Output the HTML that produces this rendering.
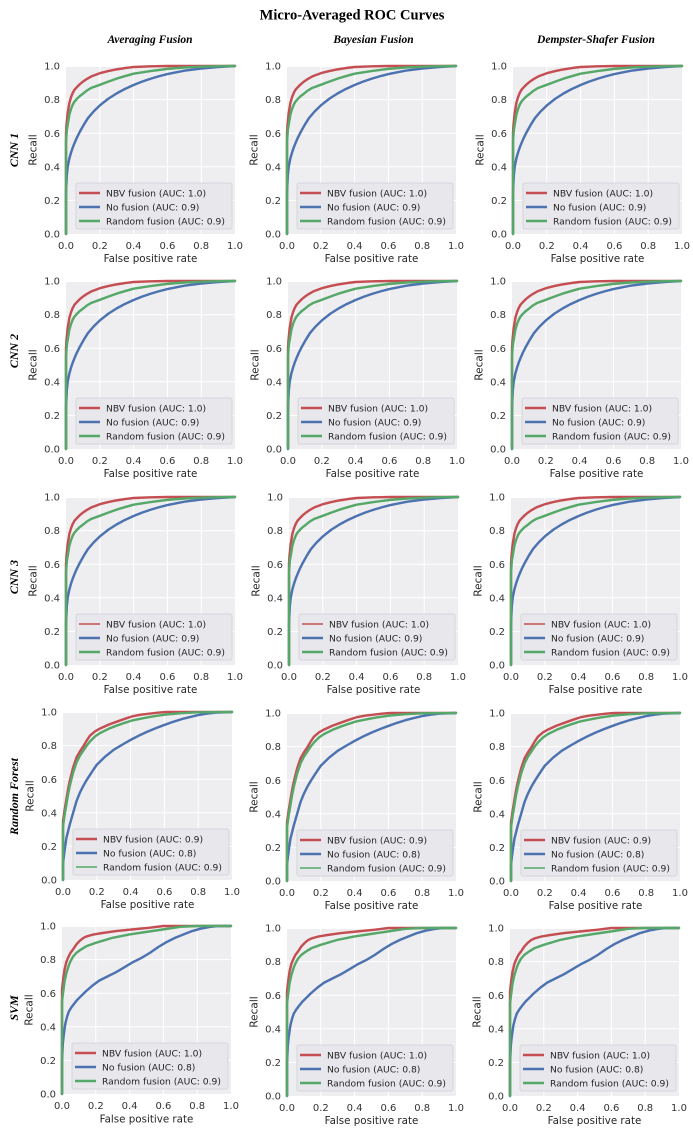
<!DOCTYPE html>
<html><head><meta charset="utf-8"><style>
html,body{margin:0;padding:0;background:#fff;}
svg{display:block}
.bg{fill:#eeeef1}
.gr{stroke:#fff;stroke-width:1;fill:none}
.c{fill:none;stroke-width:1.45;stroke-linejoin:round;stroke-linecap:round}
text{font-family:"DejaVu Sans","Liberation Sans",sans-serif;}
.yt text{text-anchor:end;font-size:10px;fill:#333}
.xt text{text-anchor:middle;font-size:10px;fill:#333}
.xl{text-anchor:middle;font-size:10.3px;fill:#262626}
.yl{text-anchor:middle;font-size:10.5px;fill:#262626}
.lg{fill:#e7e7ec;stroke:#cfcfd5;stroke-width:0.8}
.lt{font-size:9.2px;fill:#262626}
.ser{font-family:"Liberation Serif","DejaVu Serif",serif;font-weight:bold;fill:#000}
.ct{font-style:italic;font-size:11.5px;text-anchor:middle}
.rl{font-style:italic;font-size:12px;text-anchor:middle}
</style></head><body>
<svg width="693" height="1129" viewBox="0 0 693 1129" xmlns="http://www.w3.org/2000/svg">
<defs>
<polyline id="cR" class="c" stroke="#c44e52" points="0,100 0,40 0.3,35 1,28 2,22 3,18.5 4,16 5,14.2 6.5,12.5 8,11 10,9.3 12.5,7.6 15,6.2 20,4.3 25,3 30,2 35,1.2 40,0.6 50,0.2 60,0 100,0"/>
<polyline id="cB" class="c" stroke="#4c72b0" points="0,100 0,75 0.5,65 1,60 2,55 3,51.5 4,48.5 5,46 6.5,42.5 8,39.5 10.5,35 13,31 16.4,27 20,23.5 25,19.5 30,16.3 35,13.6 40,11.3 45,9.3 50,7.6 55,6.1 60,4.8 70,2.8 80,1.5 90,0.6 100,0"/>
<polyline id="cG" class="c" stroke="#55a868" points="0,100 0,45 0.5,38 1,35 2,29 3,25.5 4,23 5,21.2 6.5,19.5 8,18 10,16.5 12.5,14.5 15,13 20,11.2 25,9.3 30,7.5 35,6 40,4.6 50,3 60,1.7 70,0.9 80,0.4 90,0.1 100,0"/>
<polyline id="fR" class="c" stroke="#c44e52" points="0,100 0,65 1,58 2,52 3,46 4,41 6,33 8,27 10,23.5 12,20.5 14,17 16,14 19,11.5 22,9.8 27,7.5 32,5.7 37,3.9 41,2.6 46,1.6 51,1 56,0.4 61,0 100,0"/>
<polyline id="fB" class="c" stroke="#4c72b0" points="0,100 0,90 1,82 2,75 3,71 4,67 6,60 8,53 10,48 12,44 14,40.5 16,37.4 18,34.3 20,31.4 25,26.5 30,22.5 35,19.5 40,16.6 45,14 50,11.7 55,9.6 60,7.7 65,5.9 70,4.3 75,3 80,1.8 85,1 90,0.4 100,0"/>
<polyline id="fG" class="c" stroke="#55a868" points="0,100 0,68 1,61 2,55 3,49 4,44 6,36 8,30 10,26 12,23 14,20 16,17.5 19,14.5 22,12.5 27,10 32,8 37,6.3 41,5 46,4 51,3 56,2.2 61,1.5 70,0.7 80,0.2 100,0"/>
<polyline id="sR" class="c" stroke="#c44e52" points="0,100 0,38 0.6,32.3 1.5,26 2.6,21.3 4,18 5,16 6.5,14 8.5,11 10.5,8.8 12.5,7.2 14.5,6.2 18,5.2 22.4,4.4 32,3 42,2 52,1 60,0 100,0"/>
<polyline id="sB" class="c" stroke="#4c72b0" points="0,100 0,80 0.5,70 1,65 2,58 3,54 4,51 5.5,48.5 7,46.5 9,44 11,42 14,39 18,35.5 22,32.5 27,30 32,27.5 37,24.5 42,21.5 47,19 52,16 57,12.5 62,9.5 67,7 72,5 77,3 82,1.6 87,0.6 92,0 100,0"/>
<polyline id="sG" class="c" stroke="#55a868" points="0,100 0,45 0.6,40 1.5,33 2.6,28 4,23.5 5,21 6.5,18.3 8.5,16 10.5,14.5 12.5,13.2 14.5,12 20,10 30,7 40,5 50,3.5 60,2 70,0.5 80,0 100,0"/>
</defs>

<text class="ser" x="352" y="19.5" font-size="14.5" text-anchor="middle">Micro-Averaged ROC Curves</text>
<text class="ser ct" x="150" y="43">Averaging Fusion</text>
<text class="ser ct" x="373.5" y="43">Bayesian Fusion</text>
<text class="ser ct" x="596" y="43">Dempster-Shafer Fusion</text>

<text class="ser rl" transform="translate(18 150) rotate(-90)">CNN 1</text>
<text class="ser rl" transform="translate(18 351) rotate(-90)">CNN 2</text>
<text class="ser rl" transform="translate(18 577) rotate(-90)">CNN 3</text>
<text class="ser rl" transform="translate(18 796.5) rotate(-90)">Random Forest</text>
<text class="ser rl" transform="translate(18 1008) rotate(-90)">SVM</text>

<!-- ROW 1 -->
<g transform="translate(66,66)">
<rect class="bg" width="169" height="168"/>
<path class="gr" d="M33.8 0V168M67.6 0V168M101.4 0V168M135.2 0V168M0 0.5H169M0 33.6H169M0 67.2H169M0 100.8H169M0 134.4H169"/>
<use href="#cR" transform="scale(1.69 1.68)"/><use href="#cB" transform="scale(1.69 1.68)"/><use href="#cG" transform="scale(1.69 1.68)"/>
<g class="yt"><text x="-6" y="171.6">0.0</text><text x="-6" y="138">0.2</text><text x="-6" y="104.4">0.4</text><text x="-6" y="70.8">0.6</text><text x="-6" y="37.2">0.8</text><text x="-6" y="3.6">1.0</text></g>
<g class="xt"><text x="0" y="183">0.0</text><text x="33.8" y="183">0.2</text><text x="67.6" y="183">0.4</text><text x="101.4" y="183">0.6</text><text x="135.2" y="183">0.8</text><text x="169" y="183">1.0</text></g>
<text class="xl" x="84.5" y="196">False positive rate</text>
<text class="yl" transform="translate(-29.5 84) rotate(-90)">Recall</text>
<rect class="lg" x="10" y="117" width="156" height="46" rx="2"/>
<path d="M13 127H34" stroke="#c44e52" stroke-width="2.5"/><path d="M13 141H34" stroke="#4c72b0" stroke-width="2.5"/><path d="M13 155H34" stroke="#55a868" stroke-width="2.5"/>
<text class="lt" x="40" y="130.5">NBV fusion (AUC: 1.0)</text><text class="lt" x="40" y="144.5">No fusion (AUC: 0.9)</text><text class="lt" x="40" y="158.5">Random fusion (AUC: 0.9)</text>
</g>

<g transform="translate(287,66)">
<rect class="bg" width="169" height="168"/>
<path class="gr" d="M33.8 0V168M67.6 0V168M101.4 0V168M135.2 0V168M0 0.5H169M0 33.6H169M0 67.2H169M0 100.8H169M0 134.4H169"/>
<use href="#cR" transform="scale(1.69 1.68)"/><use href="#cB" transform="scale(1.69 1.68)"/><use href="#cG" transform="scale(1.69 1.68)"/>
<g class="yt"><text x="-6" y="171.6">0.0</text><text x="-6" y="138">0.2</text><text x="-6" y="104.4">0.4</text><text x="-6" y="70.8">0.6</text><text x="-6" y="37.2">0.8</text><text x="-6" y="3.6">1.0</text></g>
<g class="xt"><text x="0" y="183">0.0</text><text x="33.8" y="183">0.2</text><text x="67.6" y="183">0.4</text><text x="101.4" y="183">0.6</text><text x="135.2" y="183">0.8</text><text x="169" y="183">1.0</text></g>
<text class="xl" x="84.5" y="196">False positive rate</text>
<text class="yl" transform="translate(-29.5 84) rotate(-90)">Recall</text>
<rect class="lg" x="10" y="117" width="156" height="46" rx="2"/>
<path d="M13 127H34" stroke="#c44e52" stroke-width="2.5"/><path d="M13 141H34" stroke="#4c72b0" stroke-width="2.5"/><path d="M13 155H34" stroke="#55a868" stroke-width="2.5"/>
<text class="lt" x="40" y="130.5">NBV fusion (AUC: 1.0)</text><text class="lt" x="40" y="144.5">No fusion (AUC: 0.9)</text><text class="lt" x="40" y="158.5">Random fusion (AUC: 0.9)</text>
</g>

<g transform="translate(513,66)">
<rect class="bg" width="169" height="168"/>
<path class="gr" d="M33.8 0V168M67.6 0V168M101.4 0V168M135.2 0V168M0 0.5H169M0 33.6H169M0 67.2H169M0 100.8H169M0 134.4H169"/>
<use href="#cR" transform="scale(1.69 1.68)"/><use href="#cB" transform="scale(1.69 1.68)"/><use href="#cG" transform="scale(1.69 1.68)"/>
<g class="yt"><text x="-6" y="171.6">0.0</text><text x="-6" y="138">0.2</text><text x="-6" y="104.4">0.4</text><text x="-6" y="70.8">0.6</text><text x="-6" y="37.2">0.8</text><text x="-6" y="3.6">1.0</text></g>
<g class="xt"><text x="0" y="183">0.0</text><text x="33.8" y="183">0.2</text><text x="67.6" y="183">0.4</text><text x="101.4" y="183">0.6</text><text x="135.2" y="183">0.8</text><text x="169" y="183">1.0</text></g>
<text class="xl" x="84.5" y="196">False positive rate</text>
<text class="yl" transform="translate(-29.5 84) rotate(-90)">Recall</text>
<rect class="lg" x="10" y="117" width="156" height="46" rx="2"/>
<path d="M13 127H34" stroke="#c44e52" stroke-width="2.5"/><path d="M13 141H34" stroke="#4c72b0" stroke-width="2.5"/><path d="M13 155H34" stroke="#55a868" stroke-width="2.5"/>
<text class="lt" x="40" y="130.5">NBV fusion (AUC: 1.0)</text><text class="lt" x="40" y="144.5">No fusion (AUC: 0.9)</text><text class="lt" x="40" y="158.5">Random fusion (AUC: 0.9)</text>
</g>

<!-- ROW 2 -->
<g transform="translate(66,281)">
<rect class="bg" width="169" height="168"/>
<path class="gr" d="M33.8 0V168M67.6 0V168M101.4 0V168M135.2 0V168M0 0.5H169M0 33.6H169M0 67.2H169M0 100.8H169M0 134.4H169"/>
<use href="#cR" transform="scale(1.69 1.68)"/><use href="#cB" transform="scale(1.69 1.68)"/><use href="#cG" transform="scale(1.69 1.68)"/>
<g class="yt"><text x="-6" y="171.6">0.0</text><text x="-6" y="138">0.2</text><text x="-6" y="104.4">0.4</text><text x="-6" y="70.8">0.6</text><text x="-6" y="37.2">0.8</text><text x="-6" y="3.6">1.0</text></g>
<g class="xt"><text x="0" y="183">0.0</text><text x="33.8" y="183">0.2</text><text x="67.6" y="183">0.4</text><text x="101.4" y="183">0.6</text><text x="135.2" y="183">0.8</text><text x="169" y="183">1.0</text></g>
<text class="xl" x="84.5" y="196">False positive rate</text>
<text class="yl" transform="translate(-29.5 84) rotate(-90)">Recall</text>
<rect class="lg" x="10" y="117" width="156" height="46" rx="2"/>
<path d="M13 127H34" stroke="#c44e52" stroke-width="2.5"/><path d="M13 141H34" stroke="#4c72b0" stroke-width="2.5"/><path d="M13 155H34" stroke="#55a868" stroke-width="2.5"/>
<text class="lt" x="40" y="130.5">NBV fusion (AUC: 1.0)</text><text class="lt" x="40" y="144.5">No fusion (AUC: 0.9)</text><text class="lt" x="40" y="158.5">Random fusion (AUC: 0.9)</text>
</g>

<g transform="translate(288,281)">
<rect class="bg" width="169" height="168"/>
<path class="gr" d="M33.8 0V168M67.6 0V168M101.4 0V168M135.2 0V168M0 0.5H169M0 33.6H169M0 67.2H169M0 100.8H169M0 134.4H169"/>
<use href="#cR" transform="scale(1.69 1.68)"/><use href="#cB" transform="scale(1.69 1.68)"/><use href="#cG" transform="scale(1.69 1.68)"/>
<g class="yt"><text x="-6" y="171.6">0.0</text><text x="-6" y="138">0.2</text><text x="-6" y="104.4">0.4</text><text x="-6" y="70.8">0.6</text><text x="-6" y="37.2">0.8</text><text x="-6" y="3.6">1.0</text></g>
<g class="xt"><text x="0" y="183">0.0</text><text x="33.8" y="183">0.2</text><text x="67.6" y="183">0.4</text><text x="101.4" y="183">0.6</text><text x="135.2" y="183">0.8</text><text x="169" y="183">1.0</text></g>
<text class="xl" x="84.5" y="196">False positive rate</text>
<text class="yl" transform="translate(-29.5 84) rotate(-90)">Recall</text>
<rect class="lg" x="10" y="117" width="156" height="46" rx="2"/>
<path d="M13 127H34" stroke="#c44e52" stroke-width="2.5"/><path d="M13 141H34" stroke="#4c72b0" stroke-width="2.5"/><path d="M13 155H34" stroke="#55a868" stroke-width="2.5"/>
<text class="lt" x="40" y="130.5">NBV fusion (AUC: 1.0)</text><text class="lt" x="40" y="144.5">No fusion (AUC: 0.9)</text><text class="lt" x="40" y="158.5">Random fusion (AUC: 0.9)</text>
</g>

<g transform="translate(512,281)">
<rect class="bg" width="169" height="168"/>
<path class="gr" d="M33.8 0V168M67.6 0V168M101.4 0V168M135.2 0V168M0 0.5H169M0 33.6H169M0 67.2H169M0 100.8H169M0 134.4H169"/>
<use href="#cR" transform="scale(1.69 1.68)"/><use href="#cB" transform="scale(1.69 1.68)"/><use href="#cG" transform="scale(1.69 1.68)"/>
<g class="yt"><text x="-6" y="171.6">0.0</text><text x="-6" y="138">0.2</text><text x="-6" y="104.4">0.4</text><text x="-6" y="70.8">0.6</text><text x="-6" y="37.2">0.8</text><text x="-6" y="3.6">1.0</text></g>
<g class="xt"><text x="0" y="183">0.0</text><text x="33.8" y="183">0.2</text><text x="67.6" y="183">0.4</text><text x="101.4" y="183">0.6</text><text x="135.2" y="183">0.8</text><text x="169" y="183">1.0</text></g>
<text class="xl" x="84.5" y="196">False positive rate</text>
<text class="yl" transform="translate(-29.5 84) rotate(-90)">Recall</text>
<rect class="lg" x="10" y="117" width="156" height="46" rx="2"/>
<path d="M13 127H34" stroke="#c44e52" stroke-width="2.5"/><path d="M13 141H34" stroke="#4c72b0" stroke-width="2.5"/><path d="M13 155H34" stroke="#55a868" stroke-width="2.5"/>
<text class="lt" x="40" y="130.5">NBV fusion (AUC: 1.0)</text><text class="lt" x="40" y="144.5">No fusion (AUC: 0.9)</text><text class="lt" x="40" y="158.5">Random fusion (AUC: 0.9)</text>
</g>

<!-- ROW 3 -->
<g transform="translate(66,497)">
<rect class="bg" width="169" height="168"/>
<path class="gr" d="M33.8 0V168M67.6 0V168M101.4 0V168M135.2 0V168M0 0.5H169M0 33.6H169M0 67.2H169M0 100.8H169M0 134.4H169"/>
<use href="#cR" transform="scale(1.69 1.68)"/><use href="#cB" transform="scale(1.69 1.68)"/><use href="#cG" transform="scale(1.69 1.68)"/>
<g class="yt"><text x="-6" y="171.6">0.0</text><text x="-6" y="138">0.2</text><text x="-6" y="104.4">0.4</text><text x="-6" y="70.8">0.6</text><text x="-6" y="37.2">0.8</text><text x="-6" y="3.6">1.0</text></g>
<g class="xt"><text x="0" y="183">0.0</text><text x="33.8" y="183">0.2</text><text x="67.6" y="183">0.4</text><text x="101.4" y="183">0.6</text><text x="135.2" y="183">0.8</text><text x="169" y="183">1.0</text></g>
<text class="xl" x="84.5" y="196">False positive rate</text>
<text class="yl" transform="translate(-29.5 84) rotate(-90)">Recall</text>
<rect class="lg" x="10" y="117" width="156" height="46" rx="2"/>
<path d="M13 127H34" stroke="#c44e52" stroke-width="1.6"/><path d="M13 141H34" stroke="#4c72b0" stroke-width="2.5"/><path d="M13 155H34" stroke="#55a868" stroke-width="2.5"/>
<text class="lt" x="40" y="130.5">NBV fusion (AUC: 1.0)</text><text class="lt" x="40" y="144.5">No fusion (AUC: 0.9)</text><text class="lt" x="40" y="158.5">Random fusion (AUC: 0.9)</text>
</g>

<g transform="translate(289,497)">
<rect class="bg" width="169" height="168"/>
<path class="gr" d="M33.8 0V168M67.6 0V168M101.4 0V168M135.2 0V168M0 0.5H169M0 33.6H169M0 67.2H169M0 100.8H169M0 134.4H169"/>
<use href="#cR" transform="scale(1.69 1.68)"/><use href="#cB" transform="scale(1.69 1.68)"/><use href="#cG" transform="scale(1.69 1.68)"/>
<g class="yt"><text x="-6" y="171.6">0.0</text><text x="-6" y="138">0.2</text><text x="-6" y="104.4">0.4</text><text x="-6" y="70.8">0.6</text><text x="-6" y="37.2">0.8</text><text x="-6" y="3.6">1.0</text></g>
<g class="xt"><text x="0" y="183">0.0</text><text x="33.8" y="183">0.2</text><text x="67.6" y="183">0.4</text><text x="101.4" y="183">0.6</text><text x="135.2" y="183">0.8</text><text x="169" y="183">1.0</text></g>
<text class="xl" x="84.5" y="196">False positive rate</text>
<text class="yl" transform="translate(-29.5 84) rotate(-90)">Recall</text>
<rect class="lg" x="10" y="117" width="156" height="46" rx="2"/>
<path d="M13 127H34" stroke="#c44e52" stroke-width="1.6"/><path d="M13 141H34" stroke="#4c72b0" stroke-width="2.5"/><path d="M13 155H34" stroke="#55a868" stroke-width="2.5"/>
<text class="lt" x="40" y="130.5">NBV fusion (AUC: 1.0)</text><text class="lt" x="40" y="144.5">No fusion (AUC: 0.9)</text><text class="lt" x="40" y="158.5">Random fusion (AUC: 0.9)</text>
</g>

<g transform="translate(511,497)">
<rect class="bg" width="169" height="168"/>
<path class="gr" d="M33.8 0V168M67.6 0V168M101.4 0V168M135.2 0V168M0 0.5H169M0 33.6H169M0 67.2H169M0 100.8H169M0 134.4H169"/>
<use href="#cR" transform="scale(1.69 1.68)"/><use href="#cB" transform="scale(1.69 1.68)"/><use href="#cG" transform="scale(1.69 1.68)"/>
<g class="yt"><text x="-6" y="171.6">0.0</text><text x="-6" y="138">0.2</text><text x="-6" y="104.4">0.4</text><text x="-6" y="70.8">0.6</text><text x="-6" y="37.2">0.8</text><text x="-6" y="3.6">1.0</text></g>
<g class="xt"><text x="0" y="183">0.0</text><text x="33.8" y="183">0.2</text><text x="67.6" y="183">0.4</text><text x="101.4" y="183">0.6</text><text x="135.2" y="183">0.8</text><text x="169" y="183">1.0</text></g>
<text class="xl" x="84.5" y="196">False positive rate</text>
<text class="yl" transform="translate(-29.5 84) rotate(-90)">Recall</text>
<rect class="lg" x="10" y="117" width="156" height="46" rx="2"/>
<path d="M13 127H34" stroke="#c44e52" stroke-width="1.6"/><path d="M13 141H34" stroke="#4c72b0" stroke-width="2.5"/><path d="M13 155H34" stroke="#55a868" stroke-width="2.5"/>
<text class="lt" x="40" y="130.5">NBV fusion (AUC: 1.0)</text><text class="lt" x="40" y="144.5">No fusion (AUC: 0.9)</text><text class="lt" x="40" y="158.5">Random fusion (AUC: 0.9)</text>
</g>

<!-- ROW 4 -->
<g transform="translate(63,712)">
<rect class="bg" width="169" height="168"/>
<path class="gr" d="M33.8 0V168M67.6 0V168M101.4 0V168M135.2 0V168M0 0.5H169M0 33.6H169M0 67.2H169M0 100.8H169M0 134.4H169"/>
<use href="#fR" transform="scale(1.69 1.68)"/><use href="#fB" transform="scale(1.69 1.68)"/><use href="#fG" transform="scale(1.69 1.68)"/>
<g class="yt"><text x="-6" y="171.6">0.0</text><text x="-6" y="138">0.2</text><text x="-6" y="104.4">0.4</text><text x="-6" y="70.8">0.6</text><text x="-6" y="37.2">0.8</text><text x="-6" y="3.6">1.0</text></g>
<g class="xt"><text x="0" y="183">0.0</text><text x="33.8" y="183">0.2</text><text x="67.6" y="183">0.4</text><text x="101.4" y="183">0.6</text><text x="135.2" y="183">0.8</text><text x="169" y="183">1.0</text></g>
<text class="xl" x="84.5" y="196">False positive rate</text>
<text class="yl" transform="translate(-29.5 84) rotate(-90)">Recall</text>
<rect class="lg" x="10" y="117" width="156" height="46" rx="2"/>
<path d="M13 127H34" stroke="#c44e52" stroke-width="2.5"/><path d="M13 141H34" stroke="#4c72b0" stroke-width="2.5"/><path d="M13 155H34" stroke="#55a868" stroke-width="1.6"/>
<text class="lt" x="40" y="130.5">NBV fusion (AUC: 0.9)</text><text class="lt" x="40" y="144.5">No fusion (AUC: 0.8)</text><text class="lt" x="40" y="158.5">Random fusion (AUC: 0.9)</text>
</g>

<g transform="translate(287,713)">
<rect class="bg" width="169" height="168"/>
<path class="gr" d="M33.8 0V168M67.6 0V168M101.4 0V168M135.2 0V168M0 0.5H169M0 33.6H169M0 67.2H169M0 100.8H169M0 134.4H169"/>
<use href="#fR" transform="scale(1.69 1.68)"/><use href="#fB" transform="scale(1.69 1.68)"/><use href="#fG" transform="scale(1.69 1.68)"/>
<g class="yt"><text x="-6" y="171.6">0.0</text><text x="-6" y="138">0.2</text><text x="-6" y="104.4">0.4</text><text x="-6" y="70.8">0.6</text><text x="-6" y="37.2">0.8</text><text x="-6" y="3.6">1.0</text></g>
<g class="xt"><text x="0" y="183">0.0</text><text x="33.8" y="183">0.2</text><text x="67.6" y="183">0.4</text><text x="101.4" y="183">0.6</text><text x="135.2" y="183">0.8</text><text x="169" y="183">1.0</text></g>
<text class="xl" x="84.5" y="196">False positive rate</text>
<text class="yl" transform="translate(-29.5 84) rotate(-90)">Recall</text>
<rect class="lg" x="10" y="117" width="156" height="46" rx="2"/>
<path d="M13 127H34" stroke="#c44e52" stroke-width="2.5"/><path d="M13 141H34" stroke="#4c72b0" stroke-width="2.5"/><path d="M13 155H34" stroke="#55a868" stroke-width="1.6"/>
<text class="lt" x="40" y="130.5">NBV fusion (AUC: 0.9)</text><text class="lt" x="40" y="144.5">No fusion (AUC: 0.8)</text><text class="lt" x="40" y="158.5">Random fusion (AUC: 0.9)</text>
</g>

<g transform="translate(511,713)">
<rect class="bg" width="169" height="168"/>
<path class="gr" d="M33.8 0V168M67.6 0V168M101.4 0V168M135.2 0V168M0 0.5H169M0 33.6H169M0 67.2H169M0 100.8H169M0 134.4H169"/>
<use href="#fR" transform="scale(1.69 1.68)"/><use href="#fB" transform="scale(1.69 1.68)"/><use href="#fG" transform="scale(1.69 1.68)"/>
<g class="yt"><text x="-6" y="171.6">0.0</text><text x="-6" y="138">0.2</text><text x="-6" y="104.4">0.4</text><text x="-6" y="70.8">0.6</text><text x="-6" y="37.2">0.8</text><text x="-6" y="3.6">1.0</text></g>
<g class="xt"><text x="0" y="183">0.0</text><text x="33.8" y="183">0.2</text><text x="67.6" y="183">0.4</text><text x="101.4" y="183">0.6</text><text x="135.2" y="183">0.8</text><text x="169" y="183">1.0</text></g>
<text class="xl" x="84.5" y="196">False positive rate</text>
<text class="yl" transform="translate(-29.5 84) rotate(-90)">Recall</text>
<rect class="lg" x="10" y="117" width="156" height="46" rx="2"/>
<path d="M13 127H34" stroke="#c44e52" stroke-width="2.5"/><path d="M13 141H34" stroke="#4c72b0" stroke-width="2.5"/><path d="M13 155H34" stroke="#55a868" stroke-width="1.6"/>
<text class="lt" x="40" y="130.5">NBV fusion (AUC: 0.9)</text><text class="lt" x="40" y="144.5">No fusion (AUC: 0.8)</text><text class="lt" x="40" y="158.5">Random fusion (AUC: 0.9)</text>
</g>

<!-- ROW 5 -->
<g transform="translate(62,926)">
<rect class="bg" width="169" height="168"/>
<path class="gr" d="M33.8 0V168M67.6 0V168M101.4 0V168M135.2 0V168M0 0.5H169M0 33.6H169M0 67.2H169M0 100.8H169M0 134.4H169"/>
<use href="#sR" transform="scale(1.69 1.68)"/><use href="#sB" transform="scale(1.69 1.68)"/><use href="#sG" transform="scale(1.69 1.68)"/>
<g class="yt"><text x="-6" y="171.6">0.0</text><text x="-6" y="138">0.2</text><text x="-6" y="104.4">0.4</text><text x="-6" y="70.8">0.6</text><text x="-6" y="37.2">0.8</text><text x="-6" y="3.6">1.0</text></g>
<g class="xt"><text x="0" y="183">0.0</text><text x="33.8" y="183">0.2</text><text x="67.6" y="183">0.4</text><text x="101.4" y="183">0.6</text><text x="135.2" y="183">0.8</text><text x="169" y="183">1.0</text></g>
<text class="xl" x="84.5" y="196.5">False positive rate</text>
<text class="yl" transform="translate(-29.5 84) rotate(-90)">Recall</text>
<rect class="lg" x="10" y="117" width="156" height="46" rx="2"/>
<path d="M13 127H34" stroke="#c44e52" stroke-width="2.5"/><path d="M13 141H34" stroke="#4c72b0" stroke-width="2.5"/><path d="M13 155H34" stroke="#55a868" stroke-width="2.5"/>
<text class="lt" x="40" y="130.5">NBV fusion (AUC: 1.0)</text><text class="lt" x="40" y="144.5">No fusion (AUC: 0.8)</text><text class="lt" x="40" y="158.5">Random fusion (AUC: 0.9)</text>
</g>

<g transform="translate(287,928)">
<rect class="bg" width="169" height="168"/>
<path class="gr" d="M33.8 0V168M67.6 0V168M101.4 0V168M135.2 0V168M0 0.5H169M0 33.6H169M0 67.2H169M0 100.8H169M0 134.4H169"/>
<use href="#sR" transform="scale(1.69 1.68)"/><use href="#sB" transform="scale(1.69 1.68)"/><use href="#sG" transform="scale(1.69 1.68)"/>
<g class="yt"><text x="-6" y="171.6">0.0</text><text x="-6" y="138">0.2</text><text x="-6" y="104.4">0.4</text><text x="-6" y="70.8">0.6</text><text x="-6" y="37.2">0.8</text><text x="-6" y="3.6">1.0</text></g>
<g class="xt"><text x="0" y="183">0.0</text><text x="33.8" y="183">0.2</text><text x="67.6" y="183">0.4</text><text x="101.4" y="183">0.6</text><text x="135.2" y="183">0.8</text><text x="169" y="183">1.0</text></g>
<text class="xl" x="84.5" y="196">False positive rate</text>
<text class="yl" transform="translate(-29.5 84) rotate(-90)">Recall</text>
<rect class="lg" x="10" y="117" width="156" height="46" rx="2"/>
<path d="M13 127H34" stroke="#c44e52" stroke-width="2.5"/><path d="M13 141H34" stroke="#4c72b0" stroke-width="2.5"/><path d="M13 155H34" stroke="#55a868" stroke-width="2.5"/>
<text class="lt" x="40" y="130.5">NBV fusion (AUC: 1.0)</text><text class="lt" x="40" y="144.5">No fusion (AUC: 0.8)</text><text class="lt" x="40" y="158.5">Random fusion (AUC: 0.9)</text>
</g>

<g transform="translate(510,928)">
<rect class="bg" width="169" height="168"/>
<path class="gr" d="M33.8 0V168M67.6 0V168M101.4 0V168M135.2 0V168M0 0.5H169M0 33.6H169M0 67.2H169M0 100.8H169M0 134.4H169"/>
<use href="#sR" transform="scale(1.69 1.68)"/><use href="#sB" transform="scale(1.69 1.68)"/><use href="#sG" transform="scale(1.69 1.68)"/>
<g class="yt"><text x="-6" y="171.6">0.0</text><text x="-6" y="138">0.2</text><text x="-6" y="104.4">0.4</text><text x="-6" y="70.8">0.6</text><text x="-6" y="37.2">0.8</text><text x="-6" y="3.6">1.0</text></g>
<g class="xt"><text x="0" y="183">0.0</text><text x="33.8" y="183">0.2</text><text x="67.6" y="183">0.4</text><text x="101.4" y="183">0.6</text><text x="135.2" y="183">0.8</text><text x="169" y="183">1.0</text></g>
<text class="xl" x="84.5" y="196">False positive rate</text>
<text class="yl" transform="translate(-29.5 84) rotate(-90)">Recall</text>
<rect class="lg" x="10" y="117" width="156" height="46" rx="2"/>
<path d="M13 127H34" stroke="#c44e52" stroke-width="2.5"/><path d="M13 141H34" stroke="#4c72b0" stroke-width="2.5"/><path d="M13 155H34" stroke="#55a868" stroke-width="2.5"/>
<text class="lt" x="40" y="130.5">NBV fusion (AUC: 1.0)</text><text class="lt" x="40" y="144.5">No fusion (AUC: 0.8)</text><text class="lt" x="40" y="158.5">Random fusion (AUC: 0.9)</text>
</g>
</svg>
</body></html>
